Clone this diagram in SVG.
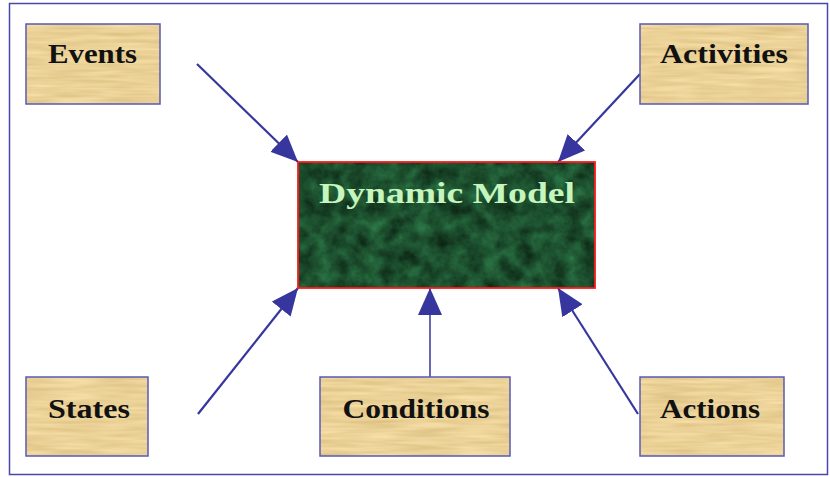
<svg xmlns="http://www.w3.org/2000/svg" width="830" height="477" viewBox="0 0 830 477">
<defs>
<filter id="marble" x="0" y="0" width="1" height="1" color-interpolation-filters="sRGB">
<feTurbulence type="fractalNoise" baseFrequency="0.06" numOctaves="5" seed="7" result="n"/>
<feColorMatrix in="n" type="matrix" values="0.16 0 0 0 0.03  0.42 0 0 0 0.1  0.26 0 0 0 0.05  0 0 0 0 1" result="c"/>
<feComposite in="c" in2="SourceGraphic" operator="in"/>
</filter>
<filter id="paper" x="0" y="0" width="1" height="1" color-interpolation-filters="sRGB">
<feTurbulence type="fractalNoise" baseFrequency="0.02 0.25" numOctaves="2" seed="3" result="n"/>
<feColorMatrix in="n" type="matrix" values="0.14 0 0 0 0.85  0.16 0 0 0 0.74  0.2 0 0 0 0.49  0 0 0 0 1" result="c"/>
<feComposite in="c" in2="SourceGraphic" operator="in"/>
</filter>
<marker id="ah" markerUnits="userSpaceOnUse" markerWidth="28" markerHeight="26" refX="27" refY="12" orient="auto">
<path d="M0,0 L27,12 L0,24 z" fill="#36369e"/>
</marker>
</defs>
<style>
.box{fill:#e9d197;}
.bord{fill:none;stroke:#5a5ab8;stroke-width:1.5;}
.lbl{font-family:"Liberation Serif","Times New Roman",serif;font-weight:bold;font-size:27px;fill:#111;text-anchor:middle;}
.con{stroke:#36369e;stroke-width:2.2;fill:none;marker-end:url(#ah);}
</style>
<rect x="9.5" y="3.5" width="818" height="471" fill="#fff" stroke="#4848a8" stroke-width="1.5"/>

<g id="connectors">
<line class="con" x1="197" y1="64" x2="298" y2="162"/>
<line class="con" x1="640" y1="74" x2="558" y2="162"/>
<line class="con" x1="198" y1="414" x2="298" y2="288"/>
<line class="con" x1="430" y1="377" x2="430" y2="288" style="stroke-width:1.5"/>
<line class="con" x1="638" y1="414" x2="558" y2="288"/>
</g>

<g id="dynamic-model">
<rect x="298" y="162" width="297" height="126" fill="#1d4d2f" filter="url(#marble)"/>
<rect x="298" y="162" width="297" height="126" fill="none" stroke="#ff1a1a" stroke-width="1.8"/>
<text x="447" y="203" font-family="'Liberation Serif','Times New Roman',serif" font-weight="bold" font-size="30" fill="#c6f5be" text-anchor="middle" textLength="256" lengthAdjust="spacingAndGlyphs">Dynamic Model</text>
</g>

<g id="events">
<rect class="box" x="26" y="24" width="134" height="80" filter="url(#paper)"/>
<rect class="bord" x="26" y="24" width="134" height="80"/>
<text class="lbl" x="92.5" y="63" textLength="89" lengthAdjust="spacingAndGlyphs">Events</text>
</g>

<g id="activities">
<rect class="box" x="640" y="24" width="168" height="80" filter="url(#paper)"/>
<rect class="bord" x="640" y="24" width="168" height="80"/>
<text class="lbl" x="724" y="63" textLength="128" lengthAdjust="spacingAndGlyphs">Activities</text>
</g>

<g id="states">
<rect class="box" x="26" y="377" width="122" height="79" filter="url(#paper)"/>
<rect class="bord" x="26" y="377" width="122" height="79"/>
<text class="lbl" x="89" y="418" textLength="82" lengthAdjust="spacingAndGlyphs">States</text>
</g>

<g id="conditions">
<rect class="box" x="320" y="377" width="190" height="79" filter="url(#paper)"/>
<rect class="bord" x="320" y="377" width="190" height="79"/>
<text class="lbl" x="416" y="418" textLength="147" lengthAdjust="spacingAndGlyphs">Conditions</text>
</g>

<g id="actions">
<rect class="box" x="640" y="377" width="144" height="79" filter="url(#paper)"/>
<rect class="bord" x="640" y="377" width="144" height="79"/>
<text class="lbl" x="710" y="418" textLength="100" lengthAdjust="spacingAndGlyphs">Actions</text>
</g>
</svg>
